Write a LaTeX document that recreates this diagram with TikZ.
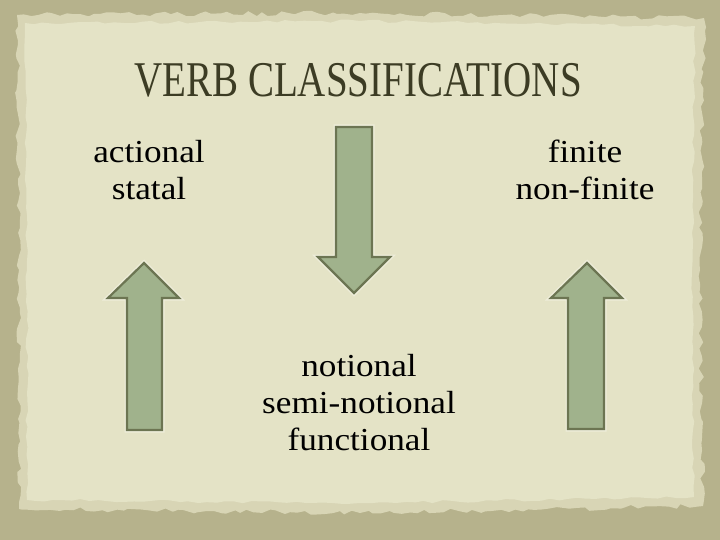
\documentclass[tikz,border=0pt]{standalone}
\usepackage{fontspec}
\setmainfont{Liberation Serif}
\newfontfamily\titlefont[FakeStretch=0.78]{Liberation Serif}
\newfontfamily\bodyfont[FakeStretch=1.1]{Liberation Serif}
\usetikzlibrary{decorations.pathmorphing}
\definecolor{outerbg}{RGB}{182,178,140}
\definecolor{paperedge}{RGB}{216,213,181}
\definecolor{paper}{RGB}{228,227,198}
\definecolor{titlecol}{RGB}{60,60,36}
\definecolor{arrowfill}{RGB}{160,178,140}
\definecolor{arrowline}{RGB}{108,117,82}
\tikzset{
  arrowshape/.style={fill=arrowfill, draw=arrowline, line width=2.2pt, line join=miter},
  arrowglow/.style={draw=white, opacity=0.35, line width=5pt, line join=miter},
  bodytext/.style={font=\bodyfont\fontsize{32}{37}\selectfont, align=center, inner sep=0pt, text=black},
  titletext/.style={font=\titlefont\fontsize{50}{56}\selectfont, inner sep=0pt, text=titlecol}
}
\begin{document}
\begin{tikzpicture}[x=1pt,y=-1pt]
\useasboundingbox (0,0) rectangle (720,540);
\fill[outerbg] (0,0) rectangle (720,540);
\pgfmathsetseed{7}
% paper edge band
\fill[paperedge, decorate, decoration={random steps, segment length=7pt, amplitude=2.5pt}]
  (17,15) -- (360,13) -- (704,18) -- (700,270) -- (703,506) -- (360,513) -- (19,509) -- (19,270) -- cycle;
% paper body
\fill[paper, decorate, decoration={random steps, segment length=9pt, amplitude=1.5pt}]
  (25,23) -- (360,21) -- (695,26) -- (692,270) -- (694,497) -- (360,503) -- (27,500) -- (27,270) -- cycle;

% title
\node[titletext, anchor=base] (title) at (358,97) {VERB CLASSIFICATIONS};

% text blocks
\node[bodytext] (left) at (149,170) {actional\\statal};
\node[bodytext] (right) at (585,170) {finite\\non-finite};
\node[bodytext] (mid) at (359,403) {notional\\semi-notional\\functional};

% arrows
\draw[arrowglow] (336,127) -- (372,127) -- (372,257) -- (390,257) -- (354,293) -- (318,257) -- (336,257) -- cycle;
\draw[arrowshape] (336,127) -- (372,127) -- (372,257) -- (390,257) -- (354,293) -- (318,257) -- (336,257) -- cycle;

\draw[arrowglow] (127,430) -- (162,430) -- (162,298) -- (179,298) -- (144,263) -- (108,298) -- (127,298) -- cycle;
\draw[arrowshape] (127,430) -- (162,430) -- (162,298) -- (179,298) -- (144,263) -- (108,298) -- (127,298) -- cycle;

\draw[arrowglow] (568,429) -- (604,429) -- (604,298) -- (622,298) -- (587,263) -- (551,298) -- (568,298) -- cycle;
\draw[arrowshape] (568,429) -- (604,429) -- (604,298) -- (622,298) -- (587,263) -- (551,298) -- (568,298) -- cycle;
\end{tikzpicture}
\end{document}
